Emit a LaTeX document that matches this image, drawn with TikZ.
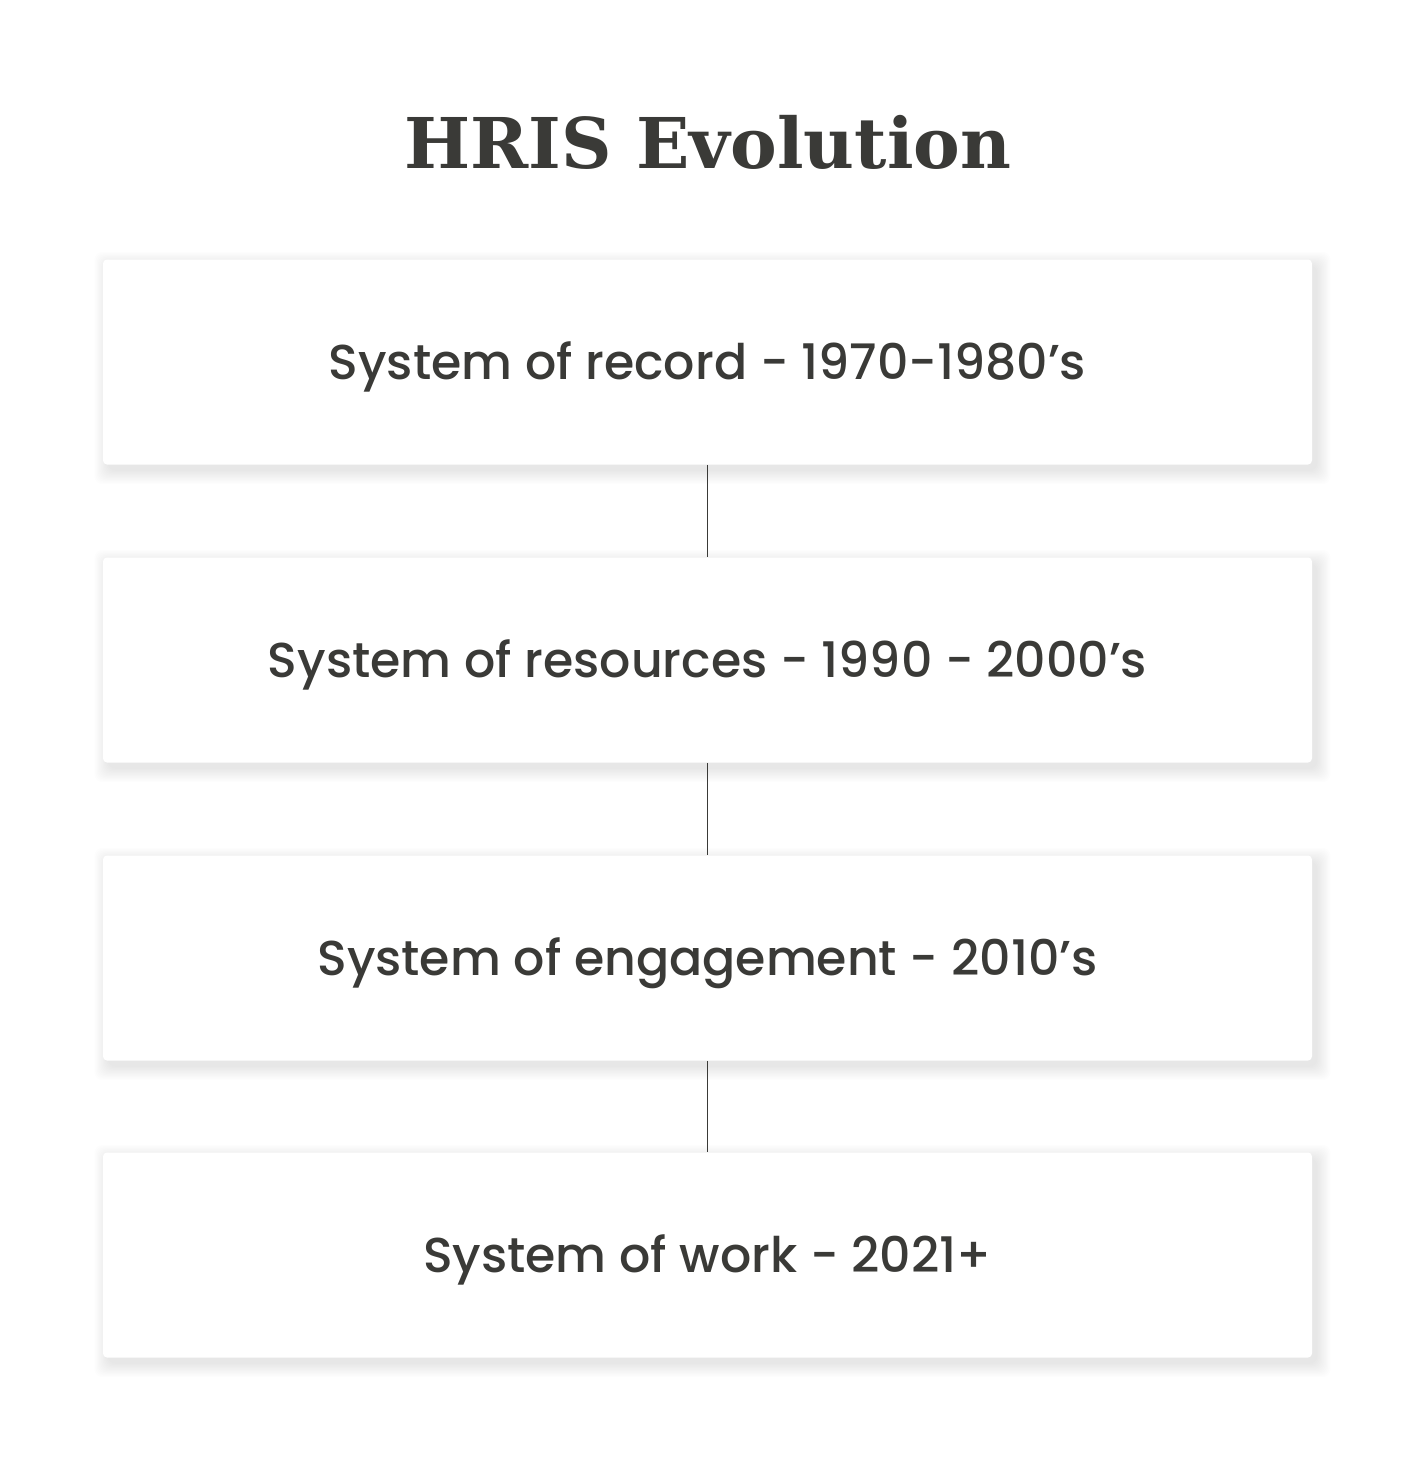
\documentclass[tikz,border=0pt]{standalone}
\usepackage{fontspec}
\setmainfont{Poppins Medium}
\newfontfamily\titlefont{DejaVu Serif}
\usetikzlibrary{backgrounds}
\definecolor{inkgray}{HTML}{3A3A37}
\tikzset{
  erabox/.style={fill=white, rounded corners=2pt, minimum width=604.5pt, minimum height=102.5pt,
    text=inkgray, font=\fontsize{24.5}{30}\selectfont, text height=17.5pt, text depth=0pt},
  softshadow/.style={fill=black, opacity=0.008, rounded corners=4pt},
  link/.style={draw=inkgray, line width=0.9pt}
}
\begin{document}
\begin{tikzpicture}[x=0.5pt, y=-0.5pt]
        \useasboundingbox (0, 0) rectangle (1417, 1458);
        \node (title) [text=inkgray, font=\titlefont\bfseries\fontsize{35}{40}\selectfont] at (708, 142) {HRIS Evolution};
        \node [erabox] (record) at (707.5, 362) {System of record - 1970-1980’s};
        \node [erabox] (resources) at (707.5, 660) {System of resources - 1990 - 2000’s};
        \node [erabox] (engagement) at (707.5, 958) {System of engagement - 2010’s};
        \node [erabox] (work) at (707.5, 1255) {System of work - 2021+};
        \draw [link] (record) -- (resources);
        \draw [link] (resources) -- (engagement);
        \draw [link] (engagement) -- (work);
        % soft shadow under the boxes
        \begin{scope}[on background layer]
          \fill [white] (0, 0) rectangle (1417, 1458);
          \foreach \era in {record, resources, engagement, work}
            \foreach \k in {0,...,11}
              \fill [softshadow] ([shift={({2.5pt-\k*0.6pt}, {-3pt-\k*0.6pt})}]\era.south west)
                rectangle ([shift={({2.5pt+\k*0.6pt}, {-3pt+\k*0.6pt})}]\era.north east);
        \end{scope}
      \end{tikzpicture}
\end{document}
